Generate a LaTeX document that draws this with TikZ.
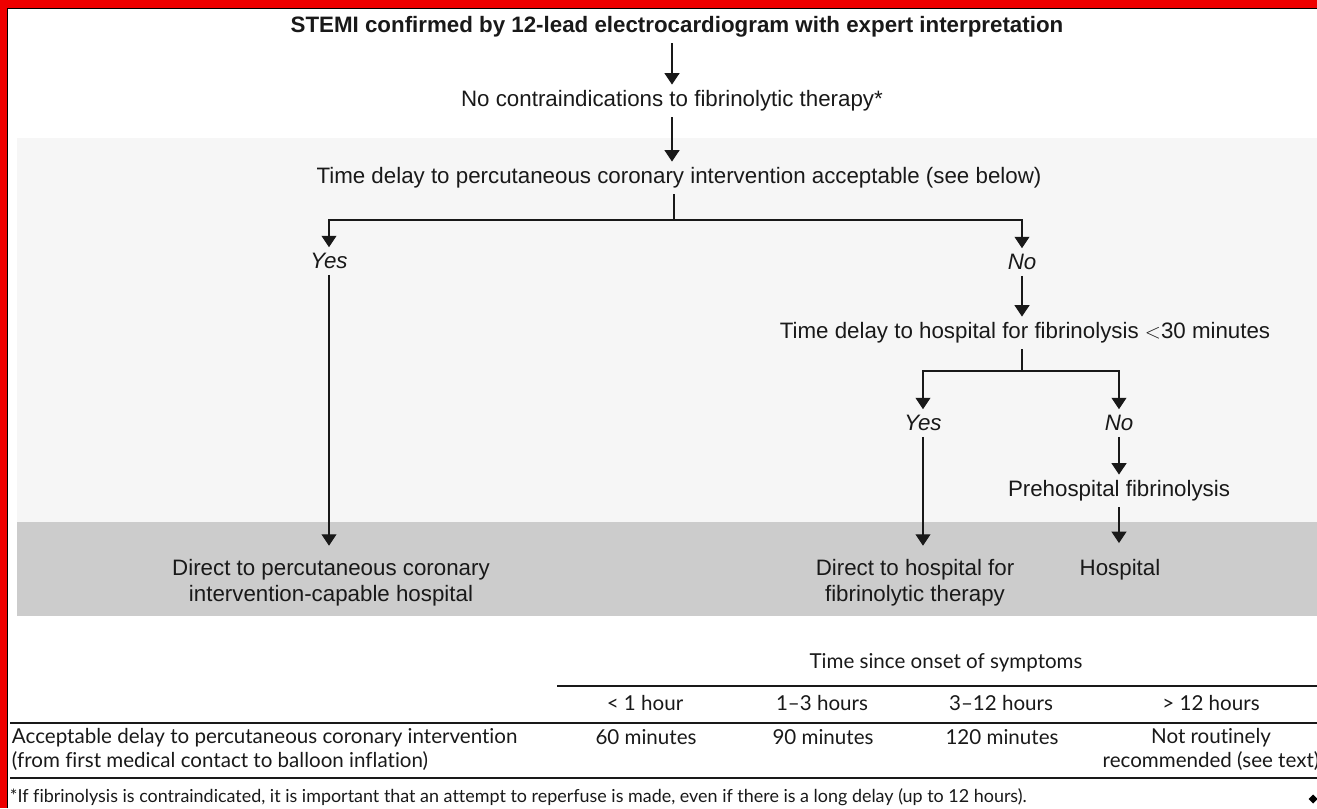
\documentclass[tikz,border=0pt]{standalone}
\usepackage{fontspec}
\setmainfont{Liberation Sans}
\newfontfamily\tabfont[Ligatures={NoCommon,TeX}]{Lato}
\usetikzlibrary{arrows.meta}
\definecolor{framered}{RGB}{238,0,0}
\definecolor{bandlight}{RGB}{246,246,246}
\definecolor{banddark}{RGB}{204,204,204}
\definecolor{ink}{RGB}{25,25,25}

\begin{document}
\begin{tikzpicture}[scale=0.2,
  every node/.style={inner sep=0pt, outer sep=0pt, text=ink},
  flow/.style={font=\fontsize{12.7}{14.8}\selectfont, align=center, outer ysep=3.4pt},
  answer/.style={flow, font=\fontsize{12.7}{14.8}\selectfont\itshape},
  link/.style={draw=ink, line width=0.7pt},
  arr/.style={link, -{Triangle[width=8.5pt,length=6.5pt]}},
  tab/.style={font=\tabfont\fontsize{11.7}{13.7}\selectfont, align=center},
  rule/.style={draw=ink, line width=0.8pt}]
\useasboundingbox (0,0) rectangle (131.7,-80.8);
\fill [framered] (0,0) rectangle (131.7,-0.8);
\fill [framered] (0,0) rectangle (0.7,-80.8);
\draw [black, line width=0.5pt] (0.72,-80.8) -- (0.72,-0.82) -- (131.7,-0.82);
\fill [bandlight] (1.7,-13.8) rectangle (131.7,-52.2);
\fill [banddark] (1.7,-52.2) rectangle (131.7,-61.6);
\node [flow, font=\fontsize{12.7}{14.8}\selectfont\bfseries] (stemi) at (67.7,-2.7) {STEMI confirmed by 12-lead electrocardiogram with expert interpretation};
\node [flow] (nocontra) at (67.2,-10.1) {No contraindications to fibrinolytic therapy*};
\node [flow] (tdpci) at (67.9,-17.8) {Time delay to percutaneous coronary intervention acceptable (see below)};
\node [answer] (yes1) at (32.9,-26.1) {Yes};
\node [answer] (no1) at (102.2,-26.2) {No};
\node [flow] (tdhosp) at (102.5,-33.3) {Time delay to hospital for fibrinolysis $<$30 minutes};
\node [answer] (yes2) at (92.3,-42.3) {Yes};
\node [answer] (no2) at (111.9,-42.3) {No};
\node [flow] (prehosp) at (111.9,-49.1) {Prehospital fibrinolysis};
\node [flow] (dpci) at (33.1,-58.3) {Direct to percutaneous coronary\\intervention-capable hospital};
\node [flow] (dhosp) at (91.5,-58.3) {Direct to hospital for\\fibrinolytic therapy};
\node [flow] (hosp) at (112.0,-57.0) {Hospital};
\coordinate (fork1) at (67.4,-22);
\coordinate (fork2) at (102.2,-37.1);
\draw [arr] (nocontra |- stemi.south) -- (nocontra.north);
\draw [arr] (nocontra.south) -- (nocontra |- tdpci.north);
\draw [link] (tdpci.south -| fork1) -- (fork1);
\draw [arr] (fork1) -| (yes1.north);
\draw [arr] (fork1) -| (no1.north);
\draw [arr, shorten >=4.5pt] (yes1.south) -- (yes1.south |- dpci.north);
\draw [arr] (no1.south) -- (no1 |- tdhosp.north);
\draw [link] (tdhosp.south -| fork2) -- (fork2);
\draw [arr] (fork2) -| (yes2.north);
\draw [arr] (fork2) -| (no2.north);
\draw [arr, shorten >=4.5pt] (yes2.south) -- (yes2.south |- dhosp.north);
\draw [arr] (no2.south) -- (prehosp.north);
\draw [arr, shorten >=6pt] (prehosp.south) -- (prehosp |- hosp.north);
\node [tab] (onset) at (94.6,-66.3) {Time since onset of symptoms};
\draw [rule, line width=1.4pt] (55.7,-68.6) -- (131.7,-68.6);
\node [tab] (lt1) at (64.5,-70.3) {< 1 hour};
\node [tab] (h13) at (82.2,-70.3) {1–3 hours};
\node [tab] (h312) at (100.1,-70.3) {3–12 hours};
\node [tab] (gt12) at (121.1,-70.3) {> 12 hours};
\draw [rule] (1.0,-72.3) -- (131.7,-72.3);
\node [tab, anchor=west, align=left] (accept) at (1.2,-74.9) {Acceptable delay to percutaneous coronary intervention\\(from first medical contact to balloon inflation)};
\node [tab] (m60) at (64.6,-73.7) {60 minutes};
\node [tab] (m90) at (82.3,-73.7) {90 minutes};
\node [tab] (m120) at (100.2,-73.7) {120 minutes};
\node [tab] (notrec) at (121.1,-74.9) {Not routinely\\recommended (see text)};
\draw [rule] (1.0,-77.8) -- (131.7,-77.8);
\node [tab, anchor=west, font=\tabfont\fontsize{10.2}{11}\selectfont] (foot) at (1.0,-79.7) {*If fibrinolysis is contraindicated, it is important that an attempt to reperfuse is made, even if there is a long delay (up to 12 hours).};
\fill [black] (130.85,-79.9) -- (131.3,-79.45) -- (131.75,-79.9) -- (131.3,-80.35) -- cycle;
\end{tikzpicture}
\end{document}
